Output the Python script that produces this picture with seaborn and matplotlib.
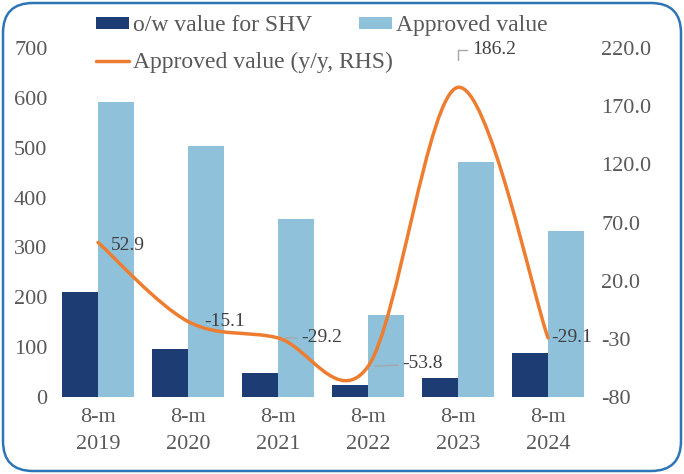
import numpy as np
import pandas as pd
import matplotlib
matplotlib.use("Agg")
import matplotlib.pyplot as plt
import seaborn as sns
from matplotlib.path import Path
from matplotlib.patches import PathPatch, FancyBboxPatch, Patch
from matplotlib.lines import Line2D

# ---- data ----
periods = ["8-m\n2019", "8-m\n2020", "8-m\n2021", "8-m\n2022", "8-m\n2023", "8-m\n2024"]
shv_value = [211, 96, 48, 24, 38, 88]
approved_value = [591, 503, 357, 164, 471, 333]
approved_yoy = [52.9, -15.1, -29.2, -53.8, 186.2, -29.1]
series_names = ["o/w value for SHV", "Approved value"]
line_name = "Approved value (y/y, RHS)"
left_ticks = [0, 100, 200, 300, 400, 500, 600, 700]
right_ticks = [-80, -30, 20, 70, 120, 170, 220]
right_tick_labels = ["-80", "-30", "20.0", "70.0", "120.0", "170.0", "220.0"]

DARK = "#1D3C74"
LIGHT = "#8FC1DB"
ORANGE = "#ED7D31"
GRAY = "#595959"
LABEL = "#404040"

sns.set_theme(style="white")
plt.rcParams["font.family"] = ["Liberation Serif", "DejaVu Serif"]

df = pd.DataFrame({
    "period": periods * 2,
    "series": [series_names[0]] * len(periods) + [series_names[1]] * len(periods),
    "value": shv_value + approved_value,
})

fig = plt.figure(figsize=(6.84, 4.74), dpi=100)
ax = fig.add_axes([53 / 684, 1 - 397 / 474, (593 - 53) / 684, (397 - 48) / 474])
sns.barplot(data=df, x="period", y="value", hue="series", palette=[DARK, LIGHT],
            width=0.8, gap=0, linewidth=0, saturation=1, ax=ax, legend=False)
ax.set_ylim(0, 700)
ax.set_yticks(left_ticks)
ax.set_xlim(-0.5, len(periods) - 0.5)
ax.set_xlabel("")
ax.set_ylabel("")
for s in ax.spines.values():
    s.set_visible(False)
ax.tick_params(axis="y", length=0, pad=4, labelsize=16, labelcolor=GRAY)
ax.tick_params(axis="x", length=0, pad=8, labelsize=16, labelcolor=GRAY)
for t in ax.get_xticklabels():
    t.set_linespacing(1.55)

ax2 = ax.twinx()
ax2.set_ylim(-80, 220)
ax2.set_yticks(right_ticks)
ax2.set_yticklabels(right_tick_labels)
ax2.tick_params(axis="y", length=0, pad=6, labelsize=16, labelcolor=GRAY)
for s in ax2.spines.values():
    s.set_visible(False)
ax2.grid(False)
ax.grid(False)

# smoothed line (Catmull-Rom style Bezier through the data points)
xs = np.arange(len(approved_yoy), dtype=float)
ys = np.array(approved_yoy, dtype=float)
n = len(xs)
verts = [(xs[0], ys[0])]
codes = [Path.MOVETO]
for i in range(n - 1):
    p0 = i - 1 if i > 0 else i
    p3 = i + 2 if i + 2 < n else i + 1
    c1 = (xs[i] + (xs[i + 1] - xs[p0]) / 6, ys[i] + (ys[i + 1] - ys[p0]) / 6)
    c2 = (xs[i + 1] - (xs[p3] - xs[i]) / 6, ys[i + 1] - (ys[p3] - ys[i]) / 6)
    verts += [c1, c2, (xs[i + 1], ys[i + 1])]
    codes += [Path.CURVE4] * 3
ax2.add_patch(PathPatch(Path(verts, codes), facecolor="none", edgecolor=ORANGE,
                        lw=2.5, capstyle="round", zorder=3))

# data labels
offsets = [(9, -2), (12, 0), (17, 0), (25, 2), (10, 27), (2, 0)]
leaders = [False, False, True, True, True, False]
for i, (v, off, ld) in enumerate(zip(approved_yoy, offsets, leaders)):
    kw = {}
    if ld:
        if i == 4:
            kw["arrowprops"] = dict(arrowstyle="-", color="#A6A6A6", lw=1,
                                    connectionstyle="angle,angleA=0,angleB=90,rad=0",
                                    shrinkA=1, shrinkB=20)
        else:
            kw["arrowprops"] = dict(arrowstyle="-", color="#A6A6A6", lw=1,
                                    shrinkA=1, shrinkB=5)
    ax2.annotate(f"{v:.1f}", xy=(xs[i], v), xytext=off, textcoords="offset points",
                 ha="left", va="center", fontsize=14, color=LABEL, zorder=4, **kw)

# legends
h_shv = Patch(facecolor=DARK, edgecolor="none")
h_app = Patch(facecolor=LIGHT, edgecolor="none")
h_line = Line2D([0], [0], color=ORANGE, lw=2.5)
leg_kw = dict(frameon=False, fontsize=17, borderpad=0, borderaxespad=0,
              handlelength=1.4, handleheight=0.4, handletextpad=0.15, labelcolor=GRAY)
fig.legend([h_shv, h_line], [series_names[0], line_name], loc="upper left",
           bbox_to_anchor=(96 / 684, 1 - 15 / 474), labelspacing=0.68, **leg_kw)
fig.legend([h_app], [series_names[1]], loc="upper left",
           bbox_to_anchor=(359 / 684, 1 - 15 / 474), **leg_kw)

# rounded border
fig.patches.append(FancyBboxPatch((0.03, 0.03), 6.78, 4.68,
                                  boxstyle="round,pad=0,rounding_size=0.3",
                                  transform=fig.dpi_scale_trans, facecolor="none",
                                  edgecolor="#2E75B6", lw=1.8, zorder=10))

fig.savefig("out.png", dpi=100)
